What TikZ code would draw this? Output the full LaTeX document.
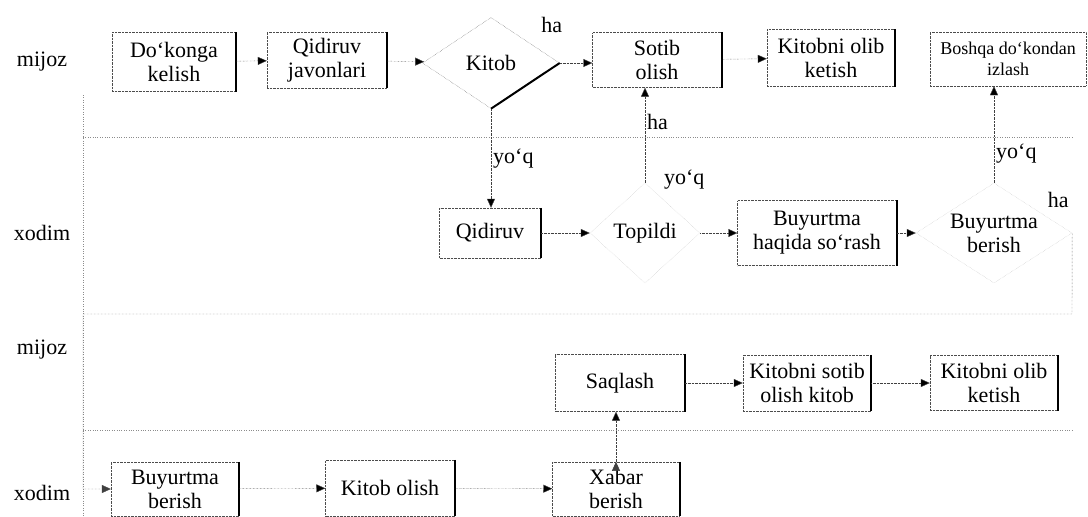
\documentclass[tikz,border=0pt]{standalone}
\usepackage{fontspec}
\setmainfont{Liberation Serif}
\usetikzlibrary{shapes.geometric, arrows.meta}

\tikzset{
  proc/.style={rectangle, draw=black!70, densely dotted, align=center, inner sep=1pt},
  dec/.style={diamond, draw=black!70, densely dotted, align=center, inner sep=0pt},
  faint/.style={draw=black!25},
  lbl/.style={inner sep=2pt},
  flow/.style={draw=black!75, densely dotted, -{Triangle[length=9pt, width=8pt]}},
  lane/.style={draw=black!45, dotted},
  sidebar/.style={draw=black, solid, line width=2pt}
}

\begin{document}
\begin{tikzpicture}[x=1pt, y=-1pt, font=\fontsize{22}{24}\selectfont]
\useasboundingbox (0,0) rectangle (1088,517);

\draw[lane] (83,137) -- (1072,137);
\draw[lane] (83,430) -- (1072,430);
\draw[lane] (83,95) -- (83,517);

\node[lbl] (mijozA) at (42,62) {mijoz};
\node[lbl] (xodimA) at (42,233) {xodim};
\node[lbl] (mijozB) at (42,350) {mijoz};
\node[lbl] (xodimB) at (42,493) {xodim};

\node[proc, minimum width=124pt, minimum height=59pt] (dk) at (174,62) {Do‘konga\\kelish};
\node[proc, minimum width=120pt, minimum height=56pt] (qj) at (327,60) {Qidiruv\\javonlari};
\node[dec, aspect=1.5, minimum width=137pt, minimum height=91pt] (kitob) at (491,63) {Kitob};
\node[proc, minimum width=129pt, minimum height=55pt] (sotib) at (657,60) {Sotib\\olish};
\node[proc, minimum width=128pt, minimum height=57pt] (kok) at (831,58) {Kitobni olib\\ketish};
\node[proc, minimum width=156pt, minimum height=54pt, font=\fontsize{18}{21}\selectfont] (boshqa) at (1008,59) {Boshqa do‘kondan\\izlash};

\node[proc, minimum width=101pt, minimum height=50pt] (qidiruv) at (490,233) {Qidiruv};
\node[dec, faint, aspect=1.2, minimum width=110pt, minimum height=100pt] (topildi) at (645,233) {Topildi};
\node[proc, minimum width=159pt, minimum height=65pt] (haqida) at (817,233) {Buyurtma\\haqida so‘rash};
\node[dec, faint, aspect=1.5, minimum width=156pt, minimum height=100pt] (bbA) at (994,233) {Buyurtma\\berish};

\node[proc, minimum width=129pt, minimum height=57pt] (saqlash) at (620,383) {Saqlash};
\node[proc, minimum width=128pt, minimum height=56pt] (sotibk) at (807,383) {Kitobni sotib\\olish kitob};
\node[proc, minimum width=128pt, minimum height=55pt] (olibk) at (994,383) {Kitobni olib\\ketish};

\node[proc, minimum width=128pt, minimum height=54pt] (bbB) at (175,489) {Buyurtma\\berish};
\node[proc, minimum width=129pt, minimum height=56pt] (kolish) at (390,488) {Kitob olish};
\node[proc, minimum width=127pt, minimum height=54pt] (xabar) at (616,489) {Xabar\\berish};

\foreach \n in {dk, qj, sotib, kok, qidiruv, haqida, saqlash, sotibk, olibk, bbB, kolish, xabar}
  \draw[sidebar] (\n.north east) -- (\n.south east);
\draw[sidebar] (kitob.south) -- (kitob.east);

\coordinate (turnR) at (1072,314);
\coordinate (turnL) at (83,314);

\path[flow]
  (dk) edge (qj)
  (qj) edge (kitob)
  (kitob.east) edge node[lbl, at start, xshift=-8pt, yshift=38pt] {ha} (kitob.east -| sotib.west)
  (sotib) edge (kok)
  (kitob.south) edge node[lbl, right, pos=0.5] {yo‘q} (kitob.south |- qidiruv.north)

  (qidiruv) edge (topildi)
  (topildi.north) edge node[lbl, right, pos=0.64] {ha} (topildi.north |- sotib.south)
  (topildi.east) edge node[lbl, at start, xshift=-16pt, yshift=53pt] {yo‘q} (haqida.west)
  (haqida) edge (bbA)
  (bbA.north) edge node[lbl, right, pos=0.3] {yo‘q} (bbA.north |- boshqa.south)

  (saqlash) edge (sotibk)
  (sotibk) edge (olibk)

  (bbB) edge (kolish)
  (kolish) edge (xabar)
  (xabar.north) edge (xabar.north |- saqlash.south);

\draw[flow] (bbA.east) -- node[lbl, at start, xshift=-14pt, yshift=33pt] {ha} (turnR)
  -- (turnL) |- (bbB.west);
\end{tikzpicture}
\end{document}
